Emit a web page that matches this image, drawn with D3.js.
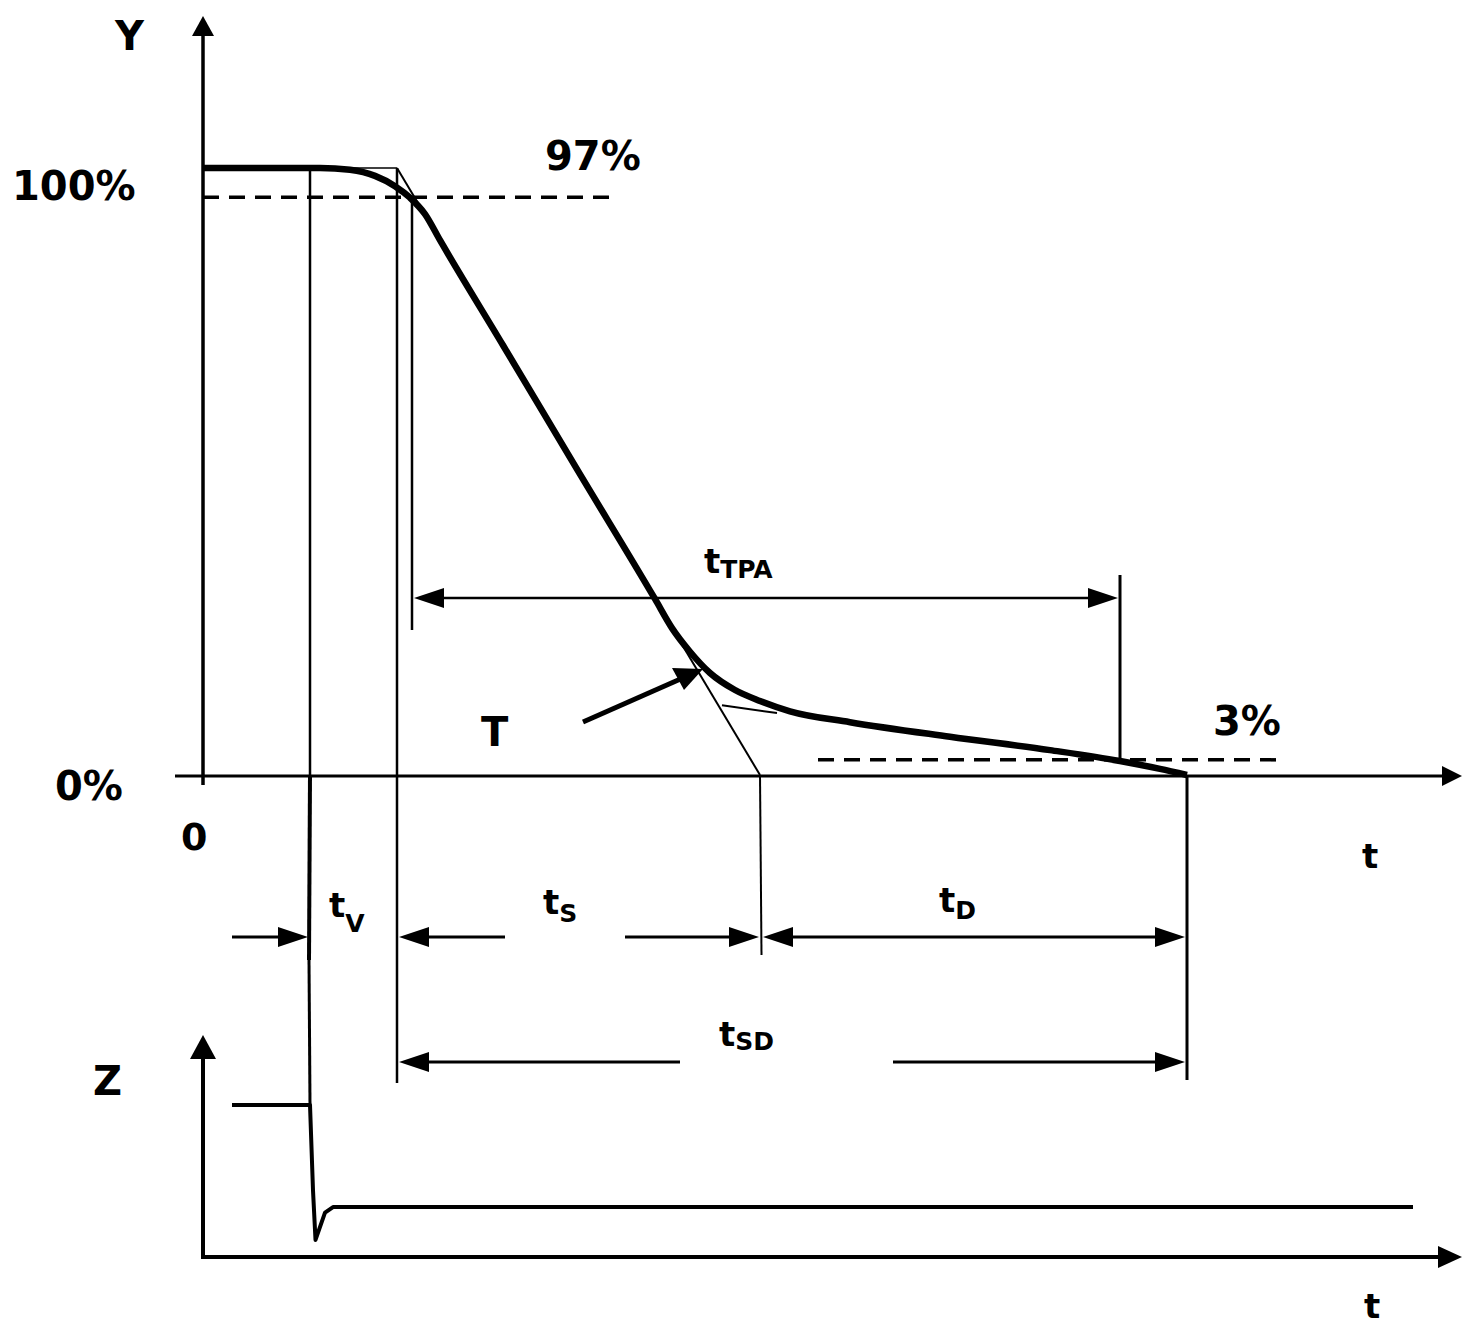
<!DOCTYPE html>
<html>
<head>
<meta charset="utf-8">
<script src="https://cdn.jsdelivr.net/npm/d3@7"></script>
<style>
    body { margin: 0; background: #fff; }
    text { font-family: 'DejaVu Sans', sans-serif; font-weight: bold; fill: #000; }
</style>
</head>
<body>
<div class="responseChart"></div>
<script>
// response curve Y (%) against time (arbitrary units)
const responseTime = [0, 23.4, 29.4, 34.4, 38.4, 41.4, 44.4, 47.4, 60, 75, 90.4, 93.8, 97.4, 101.4, 106.4, 111.4, 117.4, 129.4, 149.4, 169.4, 183.4, 191.4, 196.8];
const responsePct  = [100, 100, 99.7, 98.7, 97.0, 95.1, 92.4, 88.1, 70.8, 50.1, 29.0, 24.2, 20.3, 16.8, 14.0, 12.2, 10.5, 8.7, 6.3, 4.1, 2.3, 1.0, 0];

// command signal Z against time
const signalTime = [5.8, 21.4, 22.0, 22.5, 24.4, 26.0, 242];
const signalZ    = [68.5, 68.5, 30, 7.7, 20.0, 22.5, 22.5];

// characteristic instants
const tCommand = 21.4;     // Z switches
const tStart = 38.8;       // tangent meets 100 %
const t97 = 41.8;          // response leaves the 97 % band
const tTangentEnd = 111.4; // tangent meets 0 %
const t3 = 183.4;          // response enters the 3 % band
const tEnd = 196.8;        // response reaches 0 %

// levels
const levelHigh = 95.2, levelLow = 2.5;
const levelLabels = ['97%', '3%'];
const yTickLabels = ['100%', '0%'];

// tail tangent (start, end)
const tailTangentT = [103.8, 114.8];
const tailTangentY = [11.5, 10.2];

let svg = d3.select('.responseChart').append('svg')
    .attr('width', 1475)
    .attr('height', 1340);

let x = d3.scaleLinear().domain([0, 250]).range([203, 1453]);
let y = d3.scaleLinear().domain([0, 100]).range([775, 168]);
let z = d3.scaleLinear().domain([0, 100]).range([1257, 1035]);

function seg(x1, y1, x2, y2, w) {
    return svg.append('line')
        .attr('x1', x1).attr('y1', y1).attr('x2', x2).attr('y2', y2)
        .attr('stroke', '#000').attr('stroke-width', w);
}

// arrowhead with its tip at (tx, ty); dir: 'l', 'r', 'u'
function head(tx, ty, dir, len, half) {
    let p;
    if (dir === 'r') p = [[tx, ty], [tx - len, ty - half], [tx - len, ty + half]];
    if (dir === 'l') p = [[tx, ty], [tx + len, ty - half], [tx + len, ty + half]];
    if (dir === 'u') p = [[tx, ty], [tx - half, ty + len], [tx + half, ty + len]];
    svg.append('polygon').attr('points', p.map(d => d.join(',')).join(' ')).attr('fill', '#000');
}

// ---- main axes
seg(x(0), y(0) + 10, x(0), 30, 3.5);
head(x(0), 16, 'u', 20, 11);
seg(175, y(0) + 1, 1450, y(0) + 1, 3);
head(1462, y(0) + 1, 'r', 20, 10);

// ---- reference levels (dashed)
seg(x(0), y(levelHigh), 610, y(levelHigh), 3.5).attr('stroke-dasharray', '16,10');
seg(818, y(levelLow), 1285, y(levelLow), 3.5).attr('stroke-dasharray', '16,10');

// ---- construction lines
seg(x(tCommand), y(100), x(tStart), y(100), 1.5);
seg(x(tStart), y(100), x(tTangentEnd), y(0), 2);
seg(x(tailTangentT[0]), y(tailTangentY[0]), x(tailTangentT[1]), y(tailTangentY[1]), 2);

// ---- vertical markers
seg(x(tCommand), y(100), x(tCommand), y(0), 2.5);
seg(x(tCommand), y(0), x(tCommand) - 1, 960, 4);
seg(x(tCommand) - 1, 960, x(tCommand), z(signalZ[0]), 3);
seg(x(tStart), y(100), x(tStart), 1083, 2.5);
seg(x(t97), y(levelHigh), x(t97), 630, 2.5);
seg(x(t3), 575, x(t3), y(levelLow), 3);
seg(x(tTangentEnd), y(0), x(tTangentEnd) + 1.5, 955, 2);
seg(x(tEnd), y(0), x(tEnd), 1080, 3);

// ---- response curve
let valueLine = d3.line()
    .x((d, i) => x(responseTime[i]))
    .y(d => y(d))
    .curve(d3.curveMonotoneX);
svg.append('path')
    .datum(responsePct)
    .attr('d', valueLine)
    .attr('fill', 'none')
    .attr('stroke', '#000')
    .attr('stroke-width', 6.5)
    .attr('stroke-linejoin', 'round');

// ---- time-interval dimensions
const hLen = 30, hHalf = 10;
// tTPA
let yTPA = 598;
seg(x(t97) + 10, yTPA, x(t3) - 10, yTPA, 2.5);
head(x(t97) + 2, yTPA, 'l', hLen, hHalf);
head(x(t3) - 2, yTPA, 'r', hLen, hHalf);
// tv, ts, tD
let yRow = 937;
seg(232, yRow, x(tCommand) - 10, yRow, 3);
head(x(tCommand) - 2, yRow, 'r', hLen, hHalf);
seg(x(tStart) + 10, yRow, 505, yRow, 3);
head(x(tStart) + 2, yRow, 'l', hLen, hHalf);
seg(625, yRow, x(tTangentEnd) - 10, yRow, 3);
head(x(tTangentEnd) - 1, yRow, 'r', hLen, hHalf);
seg(x(tTangentEnd) + 10, yRow, x(tEnd) - 10, yRow, 3);
head(x(tTangentEnd) + 3, yRow, 'l', hLen, hHalf);
head(x(tEnd) - 2, yRow, 'r', hLen, hHalf);
// tSD
let ySD = 1062;
seg(x(tStart) + 10, ySD, 680, ySD, 3);
head(x(tStart) + 2, ySD, 'l', hLen, hHalf);
seg(893, ySD, x(tEnd) - 10, ySD, 3);
head(x(tEnd) - 2, ySD, 'r', hLen, hHalf);

// ---- T pointer
seg(583, 722, 685, 677, 5);
svg.append('polygon').attr('points', '703,669 672,668 684,690').attr('fill', '#000');

// ---- Z axes and signal
seg(x(0), 1259, x(0), 1050, 4);
head(x(0), 1035, 'u', 24, 13);
seg(x(0) - 2, 1257, 1440, 1257, 4);
head(1462, 1257, 'r', 24, 11);

let zLine = d3.line()
    .x((d, i) => x(signalTime[i]))
    .y(d => z(d))
    .curve(d3.curveLinear);
svg.append('path')
    .datum(signalZ)
    .attr('d', zLine)
    .attr('fill', 'none')
    .attr('stroke', '#000')
    .attr('stroke-width', 4)
    .attr('stroke-linejoin', 'round');

// ---- labels
function label(txt, lx, ly, size) {
    return svg.append('text').attr('x', lx).attr('y', ly).attr('font-size', size).text(txt);
}
label('Y', 115, 50, 40);
label(yTickLabels[0], 12, 200, 40);
label(yTickLabels[1], 55, 800, 40);
label('0', 181, 850, 38);
label(levelLabels[0], 545, 170, 40);
label(levelLabels[1], 1213, 735, 40);
label('T', 481, 746, 40);
label('Z', 93, 1095, 40);
label('t', 1362, 868, 34);
label('t', 1364, 1318, 34);

function subLabel(sub, lx, ly, shift) {
    let t = svg.append('text').attr('x', lx).attr('y', ly).attr('font-size', 34);
    t.append('tspan').text('t');
    t.append('tspan').attr('dy', shift).attr('font-size', 25).text(sub);
}
subLabel('V', 329, 917, 15);
subLabel('S', 543, 914, 8);
subLabel('D', 939, 912, 7);
subLabel('TPA', 704, 573, 5);
subLabel('SD', 719, 1046, 4);
</script>
</body>
</html>
